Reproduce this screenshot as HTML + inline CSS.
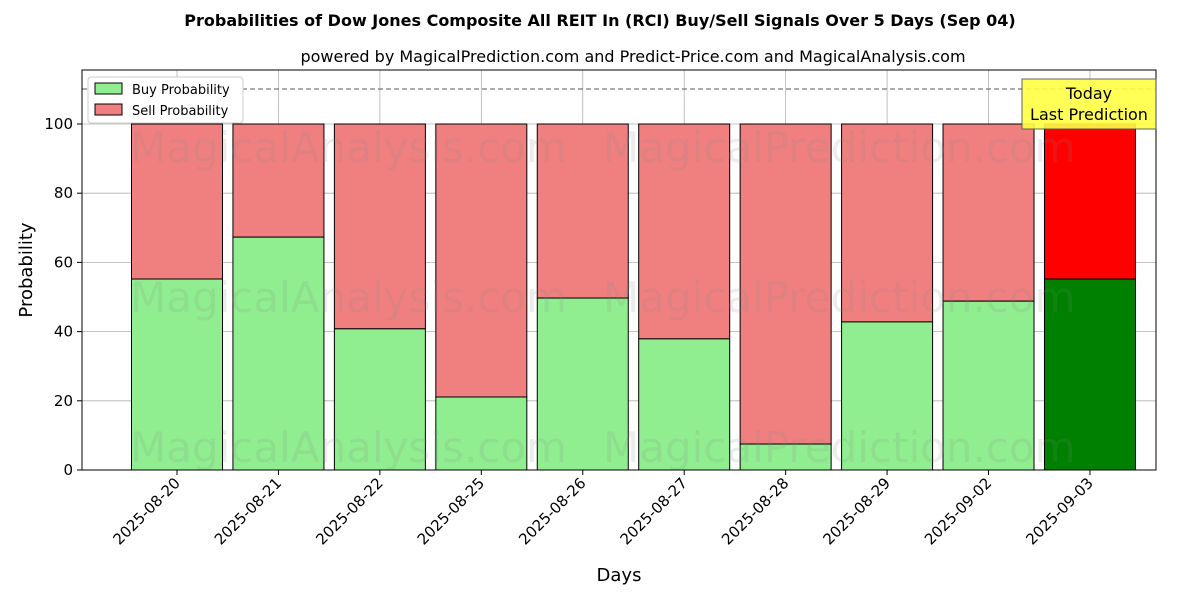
<!DOCTYPE html>
<html><head><meta charset="utf-8"><style>
body{margin:0;background:#fff;font-family:"Liberation Sans","DejaVu Sans",sans-serif;}
</style></head><body>
<svg id="chart" width="1200" height="600" xmlns="http://www.w3.org/2000/svg" font-family="DejaVu Sans, Liberation Sans, sans-serif">
<text x="600" y="26" text-anchor="middle" font-size="16" font-weight="bold">Probabilities of Dow Jones Composite All REIT In (RCI) Buy/Sell Signals Over 5 Days (Sep 04)</text>
<text x="633" y="62" text-anchor="middle" font-size="16">powered by MagicalPrediction.com and Predict-Price.com and MagicalAnalysis.com</text>
<g id="grid"></g>
<g id="bars"></g>
<g id="wm" fill="#888" opacity="0.15" font-size="42">
<text x="130" y="162">MagicalAnalysis.com</text>
<text x="603" y="162">MagicalPrediction.com</text>
<text x="130" y="312">MagicalAnalysis.com</text>
<text x="603" y="312">MagicalPrediction.com</text>
<text x="130" y="462">MagicalAnalysis.com</text>
<text x="603" y="462">MagicalPrediction.com</text>
</g>
<line x1="82" x2="1156" y1="89" y2="89" stroke="#777" stroke-dasharray="5,3" stroke-width="1.2"/>
<rect x="82" y="70" width="1074" height="400" fill="none" stroke="#000" stroke-width="1"/>
<g id="axes" font-size="15"></g>
<text x="32" y="270" text-anchor="middle" font-size="18" transform="rotate(-90 32 270)">Probability</text>
<text x="619" y="581" text-anchor="middle" font-size="18">Days</text>
<g>
<rect x="88" y="77" width="155" height="46" fill="#fff" stroke="#ccc" rx="3"/>
<rect x="95" y="83" width="27" height="11" fill="#90ee90" stroke="#000"/>
<text x="132" y="94" font-size="13">Buy Probability</text>
<rect x="95" y="104" width="27" height="11" fill="#f08080" stroke="#000"/>
<text x="132" y="115" font-size="13">Sell Probability</text>
</g>
<g>
<rect x="1022" y="79" width="134" height="50" fill="#ffff44" stroke="#555" opacity="0.9"/>
<text x="1089" y="99" text-anchor="middle" font-size="16">Today</text>
<text x="1089" y="120" text-anchor="middle" font-size="16">Last Prediction</text>
</g>
</svg>
<script>
const categories=["2025-08-20","2025-08-21","2025-08-22","2025-08-25","2025-08-26","2025-08-27","2025-08-28","2025-08-29","2025-09-02","2025-09-03"];
const buyValues=[55.2,67.3,40.8,21.1,49.7,37.9,7.5,42.8,48.8,55.2];
const yTicks=[0,20,40,60,80,100];
const NS="http://www.w3.org/2000/svg";
const xS=i=>177+i*101.44;
const yS=v=>470-v*3.46;
const bw=91;
function mk(tag,attrs,parent){const e=document.createElementNS(NS,tag);for(const k in attrs)e.setAttribute(k,attrs[k]);parent.appendChild(e);return e;}
const grid=document.getElementById('grid'),bars=document.getElementById('bars'),axes=document.getElementById('axes');
yTicks.forEach(t=>{
 const g=mk('line',{x1:82,x2:1156,y1:yS(t),y2:yS(t),stroke:'#b0b0b0','stroke-width':0.8},grid);
 
 
 const tk=mk('line',{x1:77,x2:82,y1:yS(t),y2:yS(t),stroke:'#000'},axes);
 
 
 const tx=mk('text',{x:73,y:yS(t)+5,'text-anchor':'end'},axes);tx.textContent=t;
 
 
});
categories.forEach((c,i)=>{
 const x=xS(i),last=i===categories.length-1,b=buyValues[i];
 const gl=mk('line',{x1:x,x2:x,y1:70,y2:470,stroke:'#b0b0b0','stroke-width':0.8},grid);
 
 
 const s=mk('rect',{x:x-bw/2,y:yS(100),width:bw,height:yS(b)-yS(100),fill:last?'#ff0000':'#f08080',stroke:'#000','stroke-width':1},bars);
 
 
 const r=mk('rect',{x:x-bw/2,y:yS(b),width:bw,height:yS(0)-yS(b),fill:last?'#008000':'#90ee90',stroke:'#000','stroke-width':1},bars);
 
 
 const tk=mk('line',{x1:x,x2:x,y1:470,y2:475,stroke:'#000'},axes);
 
 
 const tx=mk('text',{x:x+4,y:484,'text-anchor':'end',transform:`rotate(-45 ${x+4} 484)`},axes);tx.textContent=c;
 
 
});
</script>
</body></html>
